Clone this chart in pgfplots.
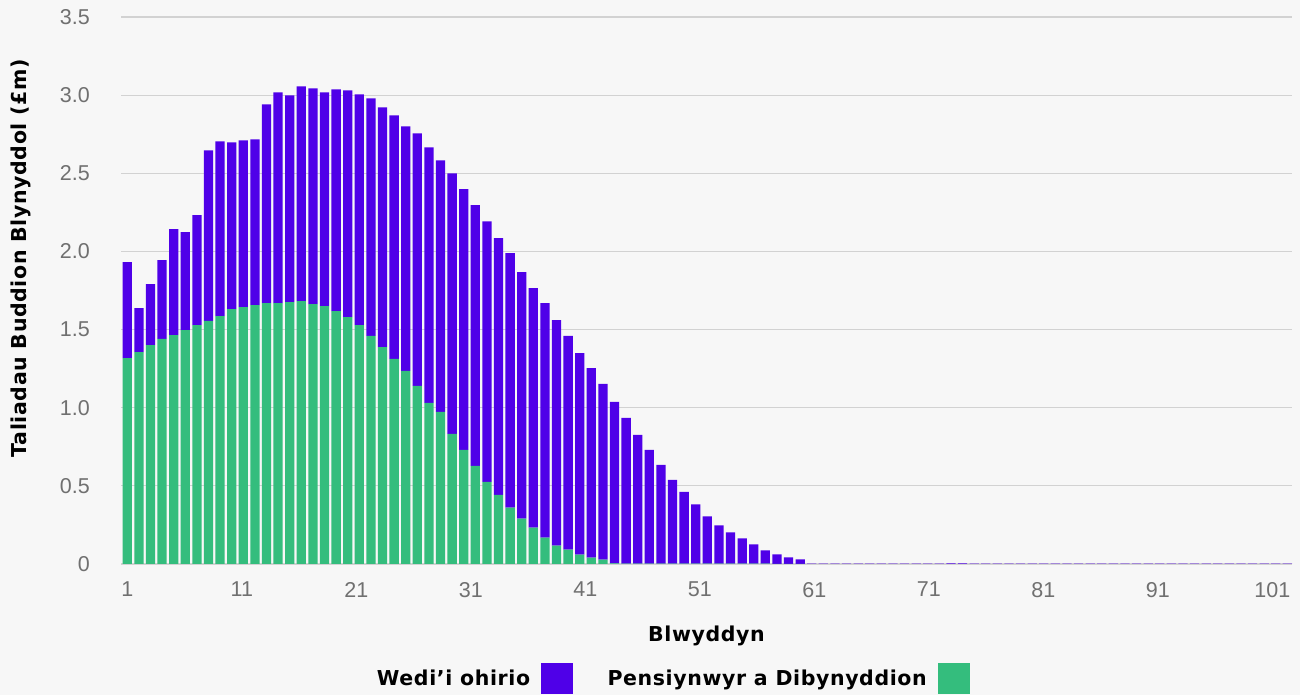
\documentclass[border=0pt]{standalone}
\usepackage{fontspec}
\setmainfont{Liberation Sans}
\newfontfamily\titlefont{DejaVu Sans}[LetterSpace=3]
\usepackage{pgfplots}
\usepackage{pgfplotstable}
\pgfplotsset{compat=1.18}
\definecolor{bg}{HTML}{F7F7F7}
\definecolor{wpurple}{HTML}{4F00E8}
\definecolor{pgreen}{HTML}{34BD7D}
\definecolor{tickgray}{HTML}{707070}
\definecolor{gridgray}{HTML}{D2D2D2}
% year, green (Pensiynwyr a Dibynyddion), purple (Wedi'i ohirio)
\pgfplotstableread{
x g d
1 1.318 0.613
2 1.356 0.282
3 1.401 0.390
4 1.440 0.504
5 1.465 0.677
6 1.497 0.626
7 1.529 0.703
8 1.555 1.092
9 1.586 1.118
10 1.631 1.067
11 1.644 1.067
12 1.657 1.060
13 1.669 1.272
14 1.669 1.348
15 1.676 1.322
16 1.682 1.374
17 1.663 1.380
18 1.650 1.367
19 1.618 1.419
20 1.580 1.450
21 1.529 1.476
22 1.459 1.520
23 1.388 1.534
24 1.312 1.559
25 1.235 1.565
26 1.139 1.617
27 1.031 1.635
28 0.973 1.610
29 0.833 1.667
30 0.730 1.668
31 0.628 1.668
32 0.526 1.667
33 0.443 1.642
34 0.360 1.629
35 0.290 1.578
36 0.232 1.533
37 0.168 1.501
38 0.117 1.444
39 0.092 1.367
40 0.060 1.290
41 0.040 1.214
42 0.028 1.124
43 0.004 1.033
44 0.003 0.932
45 0.003 0.823
46 0.003 0.727
47 0.003 0.632
48 0.003 0.536
49 0.003 0.459
50 0.003 0.378
51 0.002 0.303
52 0.002 0.245
53 0.002 0.200
54 0.002 0.162
55 0.002 0.124
56 0.002 0.085
57 0.001 0.061
58 0.001 0.042
59 0.001 0.029
60 0 0.002
61 0 0.002
62 0 0.002
63 0 0.002
64 0 0.002
65 0 0.002
66 0 0.002
67 0 0.002
68 0 0.002
69 0 0.002
70 0 0.002
71 0 0.002
72 0 0.004
73 0 0.004
74 0 0.002
75 0 0.002
76 0 0.002
77 0 0.002
78 0 0.002
79 0 0.002
80 0 0.002
81 0 0.002
82 0 0.002
83 0 0.002
84 0 0.002
85 0 0.002
86 0 0.002
87 0 0.002
88 0 0.002
89 0 0.002
90 0 0.002
91 0 0.002
92 0 0.002
93 0 0.002
94 0 0.002
95 0 0.002
96 0 0.002
97 0 0.002
98 0 0.002
99 0 0.002
100 0 0.002
101 0 0.002
}\datatable
\begin{document}
\begin{tikzpicture}
\useasboundingbox (0,0) rectangle (1300bp,695bp);
\fill[bg] (0,0) rectangle (1300bp,695bp);
\begin{axis}[
  at={(121bp,131bp)}, anchor=south west,
  scale only axis, width=1171bp, height=547bp,
  ybar stacked, bar width=0.8,
  xmin=0.457, xmax=101.4, ymin=0, ymax=3.5,
  axis line style={draw=none},
  major tick length=0pt,
  ymajorgrids, grid style={gridgray, line width=1.2bp},
  ytick={0,0.5,1,1.5,2,2.5,3,3.5},
  yticklabels={0,0.5,1.0,1.5,2.0,2.5,3.0,3.5},
  xtick={1,10.87,20.74,30.61,40.48,50.36,60.23,70.10,79.97,89.84,99.71},
  xticklabels={1,11,21,31,41,51,61,71,81,91,101},
  yticklabel style={font=\fontsize{21.5bp}{26bp}\selectfont, text=tickgray, anchor=east, inner sep=0pt, xshift=-31bp},
  xticklabel style={font=\fontsize{21.5bp}{26bp}\selectfont, text=tickgray, anchor=north, inner sep=0pt, yshift=-18bp},
  xlabel={Blwyddyn},
  ylabel={Taliadau Buddion Blynyddol (£m)},
  xlabel style={at={(axis description cs:0.5,-0.1408)}, anchor=base, inner sep=0pt, font=\titlefont\bfseries\fontsize{20.5bp}{24bp}\selectfont},
  ylabel style={at={(axis description cs:-0.0805,0.559)}, anchor=base, inner sep=0pt, rotate=0, font=\titlefont\bfseries\fontsize{20.5bp}{24bp}\selectfont},
  legend columns=2,
  legend plot pos=right,
  legend style={at={(axis description cs:0.2186,-0.2084)}, anchor=west, draw=none, fill=none, inner sep=0pt, outer sep=0pt,
    font=\titlefont\bfseries\fontsize{20.5bp}{24bp}\selectfont,
    nodes={inner sep=0pt},
    /tikz/every odd column/.append style={column sep=11bp},
    /tikz/every even column/.append style={column sep=35bp}},
]
\addlegendimage{legend image code/.code={\fill[wpurple] (0bp,-14.5bp) rectangle (31bp,15.5bp);}}
\addlegendentry{Wedi’i ohirio}
\addlegendimage{legend image code/.code={\fill[pgreen] (0bp,-14.5bp) rectangle (31bp,15.5bp);}}
\addlegendentry{Pensiynwyr a Dibynyddion}
\addplot[fill=pgreen, draw=none, forget plot] table[x=x, y=g] {\datatable};
\addplot[fill=wpurple, draw=none, forget plot] table[x=x, y=d] {\datatable};
\end{axis}
\end{tikzpicture}
\end{document}
